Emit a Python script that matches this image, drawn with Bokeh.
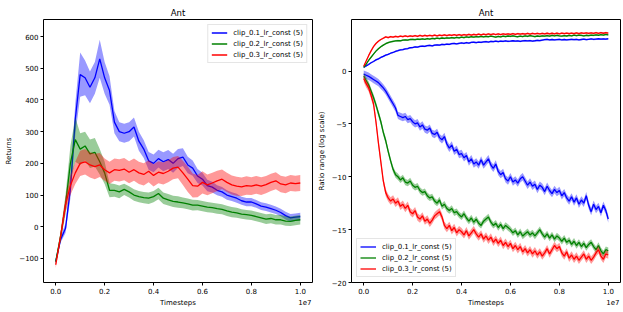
from bokeh.plotting import figure
from bokeh.layouts import row
from bokeh.models import Range1d, FixedTicker, Legend, LegendItem, LinearAxis
from bokeh.embed import file_html
from bokeh.resources import INLINE

# ---------------- data ----------------
series_names = ["clip_0.1_lr_const (5)", "clip_0.2_lr_const (5)", "clip_0.3_lr_const (5)"]
series_colors = ["#0000ff", "#008000", "#ff0000"]

# left panel: every 0.02e7 timesteps
steps_left = [i * 200_000 for i in range(51)]
returns_blue = [-110, -40, -5, 120, 340, 480, 470, 440, 470, 530,
                470, 430, 330, 300, 295, 300, 315, 270, 245, 208,
                200, 215, 205, 212, 200, 215, 220, 195, 185, 160,
                150, 130, 125, 115, 110, 100, 95, 90, 82, 78,
                78, 72, 65, 62, 57, 52, 45, 35, 28, 30, 32]
returns_blue_hw = [8, 10, 15, 30, 50, 70, 55, 50, 50, 60,
                   50, 45, 35, 30, 30, 30, 30, 30, 28, 28,
                   28, 28, 30, 30, 30, 30, 28, 26, 24, 22,
                   20, 18, 17, 16, 15, 15, 14, 14, 13, 13,
                   13, 12, 12, 12, 12, 12, 12, 12, 12, 12, 12]
returns_green = [-110, -30, 70, 200, 275, 245, 255, 230, 235, 205,
                 170, 115, 115, 110, 118, 110, 100, 95, 92, 90,
                 95, 105, 90, 85, 80, 78, 75, 72, 68, 68,
                 65, 62, 60, 57, 55, 50, 46, 44, 40, 38,
                 36, 32, 28, 24, 26, 22, 22, 18, 17, 20, 22]
returns_green_hw = [8, 15, 30, 55, 70, 50, 45, 45, 45, 40,
                    35, 22, 20, 20, 18, 18, 18, 18, 18, 18,
                    18, 18, 18, 18, 18, 18, 17, 17, 17, 16,
                    16, 16, 16, 16, 16, 16, 16, 16, 15, 15,
                    15, 15, 15, 15, 15, 15, 15, 15, 15, 15, 15]
returns_red = [-120, -30, 70, 130, 170, 200, 205, 195, 190, 195,
               180, 170, 180, 178, 182, 172, 180, 170, 165, 175,
               162, 172, 168, 175, 185, 188, 170, 150, 130, 128,
               140, 132, 138, 145, 150, 140, 132, 128, 126, 130,
               128, 132, 128, 133, 140, 145, 135, 132, 138, 136, 138]
returns_red_hw = [10, 15, 25, 30, 35, 40, 40, 40, 40, 38,
                  35, 35, 35, 35, 35, 35, 35, 35, 35, 35,
                  35, 35, 35, 35, 35, 35, 38, 40, 38, 35,
                  35, 33, 32, 32, 31, 30, 30, 30, 29, 29,
                  28, 28, 28, 27, 27, 27, 26, 26, 25, 25, 25]

# right panel: every 0.01e7 timesteps
steps_right = [i * 100_000 for i in range(101)]
ratio_max_blue = [0.35, 0.48, 0.62, 0.78, 0.9, 1.05, 1.15, 1.28, 1.38, 1.5,
                  1.58, 1.68, 1.75, 1.85, 1.92, 2.0, 2.02, 2.1, 2.12, 2.2,
                  2.22, 2.28, 2.25, 2.32, 2.35, 2.32, 2.4, 2.42, 2.38, 2.45,
                  2.48, 2.45, 2.52, 2.5, 2.55, 2.52, 2.58, 2.6, 2.56, 2.62,
                  2.65, 2.62, 2.68, 2.64, 2.7, 2.72, 2.68, 2.74, 2.7, 2.76,
                  2.78, 2.74, 2.8, 2.77, 2.82, 2.78, 2.83, 2.8, 2.84, 2.8,
                  2.82, 2.86, 2.82, 2.85, 2.8, 2.84, 2.88, 2.84, 2.87, 2.83,
                  2.86, 2.9, 2.87, 2.92, 2.96, 2.99, 2.95, 2.98, 2.94, 2.97,
                  2.99, 2.95, 2.98, 2.94, 2.97, 3.0, 2.96, 2.99, 2.95, 2.98,
                  3.01, 2.97, 3.0, 3.03, 2.99, 3.02, 3.05, 3.01, 3.04, 3.02, 3.05]
ratio_max_green = [0.35, 0.65, 1.0, 1.3, 1.6, 1.88, 2.1, 2.3, 2.45, 2.58,
                   2.68, 2.75, 2.8, 2.84, 2.88, 2.86, 2.92, 2.95, 2.92, 2.98,
                   3.0, 2.96, 3.02, 2.99, 3.04, 3.0, 3.06, 3.02, 3.08, 3.05,
                   3.1, 3.07, 3.12, 3.08, 3.14, 3.1, 3.16, 3.12, 3.18, 3.14,
                   3.2, 3.16, 3.22, 3.18, 3.24, 3.2, 3.26, 3.22, 3.27, 3.23,
                   3.28, 3.24, 3.3, 3.26, 3.21, 3.27, 3.23, 3.29, 3.25, 3.31,
                   3.27, 3.33, 3.28, 3.24, 3.3, 3.26, 3.32, 3.28, 3.34, 3.29,
                   3.25, 3.31, 3.27, 3.33, 3.29, 3.35, 3.3, 3.36, 3.32, 3.38,
                   3.33, 3.29, 3.35, 3.31, 3.37, 3.33, 3.39, 3.34, 3.4, 3.36,
                   3.32, 3.38, 3.34, 3.4, 3.36, 3.42, 3.38, 3.44, 3.4, 3.46, 3.42]
ratio_max_red = [0.45, 0.95, 1.45, 1.9, 2.3, 2.6, 2.82, 2.98, 3.1, 3.22,
                 3.15, 3.25, 3.2, 3.28, 3.22, 3.3, 3.25, 3.32, 3.26, 3.33,
                 3.27, 3.34, 3.28, 3.36, 3.3, 3.37, 3.31, 3.38, 3.32, 3.39,
                 3.33, 3.4, 3.34, 3.41, 3.35, 3.42, 3.36, 3.43, 3.37, 3.44,
                 3.38, 3.45, 3.39, 3.46, 3.4, 3.47, 3.41, 3.48, 3.42, 3.49,
                 3.43, 3.5, 3.44, 3.5, 3.45, 3.51, 3.45, 3.52, 3.46, 3.52,
                 3.47, 3.53, 3.47, 3.54, 3.48, 3.54, 3.48, 3.55, 3.49, 3.55,
                 3.5, 3.56, 3.5, 3.56, 3.51, 3.57, 3.51, 3.57, 3.52, 3.58,
                 3.52, 3.58, 3.53, 3.59, 3.53, 3.59, 3.54, 3.6, 3.54, 3.6,
                 3.55, 3.61, 3.55, 3.61, 3.56, 3.62, 3.56, 3.62, 3.57, 3.63, 3.58]
ratio_min_blue = [-0.3, -0.4, -0.5, -0.65, -0.8, -0.95, -1.1, -1.35, -1.6, -1.9,
                  -2.3, -2.7, -3.1, -3.5, -4.2, -4.3, -4.4, -4.3, -4.6, -4.5,
                  -4.8, -5.0, -4.9, -5.3, -5.1, -5.5, -5.6, -5.4, -5.9, -6.0,
                  -5.8, -6.3, -6.5, -6.2, -6.9, -7.3, -7.0, -7.6, -7.4, -7.9,
                  -7.8, -8.2, -8.0, -8.6, -8.3, -8.8, -8.6, -8.9, -8.4, -8.9,
                  -8.6, -8.3, -8.9, -9.2, -8.8, -9.5, -9.8, -9.6, -10.2, -10.4,
                  -10.0, -10.5, -10.3, -10.6, -10.2, -10.0, -10.4, -10.8, -10.5, -10.9,
                  -10.7, -11.2, -10.8, -11.0, -11.4, -10.9, -11.3, -11.6, -11.2, -11.5,
                  -11.3, -11.8, -11.5, -12.0, -12.3, -11.9, -12.4, -12.0, -12.6, -12.2,
                  -12.5, -11.8, -12.7, -13.3, -12.6, -13.1, -12.8, -13.4, -12.7, -13.2, -14.0]
ratio_min_green = [-0.5, -0.9, -1.3, -1.9, -2.5, -3.2, -4.0, -4.8, -5.8, -6.6,
                   -7.6, -8.5, -9.3, -9.8, -10.0, -10.3, -10.1, -10.5, -10.6, -10.4,
                   -10.8, -11.0, -10.9, -11.3, -11.5, -11.4, -11.8, -12.0, -11.9, -12.3,
                   -12.5, -12.2, -12.8, -12.6, -13.0, -13.2, -13.0, -13.4, -13.3, -13.6,
                   -13.8, -13.5, -13.9, -14.2, -13.9, -14.3, -14.0, -14.4, -14.6, -14.2,
                   -14.0, -13.8, -14.3, -14.6, -14.4, -14.8, -14.5, -14.9, -14.6, -14.8,
                   -15.0, -15.3, -15.1, -15.5, -15.2, -15.6, -15.4, -15.2, -15.5, -15.3,
                   -15.6, -15.3, -15.0, -15.4, -15.7, -15.4, -15.8, -15.5, -15.9, -15.6,
                   -15.8, -16.1, -15.8, -16.2, -16.0, -16.4, -16.1, -16.5, -16.2, -16.6,
                   -16.3, -16.7, -16.4, -16.2, -16.6, -16.9, -16.5, -17.0, -17.3, -16.9, -17.0]
ratio_min_red = [-0.7, -1.2, -1.6, -2.3, -3.1, -4.8, -6.8, -8.6, -10.4, -11.5,
                 -12.0, -12.3, -12.1, -12.5, -12.3, -12.8, -12.6, -13.0, -12.7, -13.3,
                 -13.5, -13.2, -13.8, -14.0, -13.7, -14.2, -14.0, -14.4, -14.1, -13.7,
                 -13.5, -13.3, -13.8, -14.6, -14.9, -14.6, -15.1, -14.8, -15.3, -15.0,
                 -15.2, -15.5, -15.1, -15.6, -15.3, -15.0, -15.4, -15.7, -15.4, -15.9,
                 -15.6, -16.0, -15.7, -16.2, -15.9, -16.3, -16.0, -16.5, -16.2, -16.6,
                 -16.3, -16.8, -16.5, -16.9, -16.6, -17.1, -16.8, -17.2, -16.9, -17.3,
                 -17.0, -17.4, -17.1, -17.5, -17.2, -16.8, -17.3, -16.9, -16.5, -16.8,
                 -16.6, -17.2, -17.5, -17.1, -17.7, -17.4, -17.8, -17.5, -17.9, -17.6,
                 -17.3, -17.8, -17.5, -17.9, -17.6, -17.2, -16.9, -17.5, -17.8, -17.3, -17.4]
ratio_max_hw = [0.08, 0.08, 0.08]
ratio_min_hw = [0.35, 0.3, 0.35]

x_tick_values = [0, 2_000_000, 4_000_000, 6_000_000, 8_000_000, 10_000_000]
x_tick_labels = ["0.0", "0.2", "0.4", "0.6", "0.8", "1.0"]
x_title = "Timesteps"
x_offset_text = "1e7"
left_y_ticks = [-100, 0, 100, 200, 300, 400, 500, 600]
left_y_labels = ["\u2212100", "0", "100", "200", "300", "400", "500", "600"]
right_y_ticks = [-20, -15, -10, -5, 0]
right_y_labels = ["\u221220", "\u221215", "\u221210", "\u22125", "0"]

FONT = "DejaVu Sans"


def style(p, yticks, ylabels, ylabel):
    p.title.text = "Ant"
    p.title.align = "center"
    p.title.text_font = FONT
    p.title.text_font_size = "8.5px"
    p.title.text_font_style = "normal"
    p.title.text_color = "black"
    p.title.standoff = 3
    p.grid.visible = False
    p.outline_line_color = "black"
    p.outline_line_width = 1
    for ax in (p.xaxis[0], p.yaxis[0]):
        ax.major_label_text_font = FONT
        ax.major_label_text_font_size = "7px"
        ax.major_label_text_color = "black"
        ax.axis_label_text_font = FONT
        ax.axis_label_text_font_size = "7px"
        ax.axis_label_text_font_style = "normal"
        ax.axis_label_text_color = "black"
        ax.minor_tick_line_color = None
        ax.major_tick_out = 3
        ax.major_tick_in = 0
        ax.major_label_standoff = 2
        ax.axis_label_standoff = 3
        ax.axis_line_color = None
        ax.major_tick_line_color = "black"
    p.xaxis[0].ticker = FixedTicker(ticks=x_tick_values)
    p.xaxis[0].major_label_overrides = dict(zip(x_tick_values, x_tick_labels))
    p.yaxis[0].ticker = FixedTicker(ticks=yticks)
    p.yaxis[0].major_label_overrides = dict(zip(yticks, ylabels))
    p.yaxis[0].axis_label = ylabel
    # second row under the tick labels: axis title centred, offset text at the right end
    pos = [5_000_000, 10_190_000]
    ax2 = LinearAxis(ticker=FixedTicker(ticks=pos),
                     major_label_overrides=dict(zip(pos, [x_title, x_offset_text])),
                     major_tick_line_color=None, minor_tick_line_color=None,
                     major_tick_out=0, major_tick_in=0,
                     axis_line_color=None, major_label_standoff=2,
                     major_label_text_font=FONT, major_label_text_font_size="7px",
                     major_label_text_color="black")
    p.add_layout(ax2, "below")


def make_fig(y_range, left_border, right_border):
    return figure(frame_width=269, frame_height=263, output_backend="svg",
                  toolbar_location=None, x_range=Range1d(-0.05e7, 1.05e7), y_range=y_range,
                  min_border_left=left_border, min_border_right=right_border,
                  min_border_top=19, min_border_bottom=26)


# ---------------- left ----------------
p1 = make_fig(Range1d(-176, 654), 43, 2)
items1 = []
for name, col, mean, hw in zip(series_names, series_colors,
                               [returns_blue, returns_green, returns_red],
                               [returns_blue_hw, returns_green_hw, returns_red_hw]):
    lo = [m - h for m, h in zip(mean, hw)]
    hi = [m + h for m, h in zip(mean, hw)]
    p1.varea(x=steps_left, y1=lo, y2=hi, fill_color=col, fill_alpha=0.4)
    r = p1.line(steps_left, mean, line_color=col, line_width=1.3)
    items1.append(LegendItem(label=name, renderers=[r]))
style(p1, left_y_ticks, left_y_labels, "Returns")

# ---------------- right ----------------
p2 = make_fig(Range1d(-20, 4.87), 32, 6)
items2 = []
for name, col, mx, mn, hwx, hwn in zip(series_names, series_colors,
                                       [ratio_max_blue, ratio_max_green, ratio_max_red],
                                       [ratio_min_blue, ratio_min_green, ratio_min_red],
                                       ratio_max_hw, ratio_min_hw):
    p2.varea(x=steps_right, y1=[v - hwx for v in mx], y2=[v + hwx for v in mx],
             fill_color=col, fill_alpha=0.4)
    p2.varea(x=steps_right, y1=[v - hwn for v in mn], y2=[v + hwn for v in mn],
             fill_color=col, fill_alpha=0.4)
    r = p2.line(steps_right, mx, line_color=col, line_width=1.3)
    p2.line(steps_right, mn, line_color=col, line_width=1.3)
    items2.append(LegendItem(label=name, renderers=[r]))
style(p2, right_y_ticks, right_y_labels, "Ratio range (log scale)")


def legend(items, loc):
    lg = Legend(items=items, location=loc)
    lg.label_text_font = FONT
    lg.label_text_font_size = "7px"
    lg.label_text_color = "black"
    lg.glyph_width = 16
    lg.glyph_height = 9
    lg.label_height = 9
    lg.spacing = 2
    lg.padding = 3
    lg.margin = 5
    lg.label_standoff = 6
    lg.border_line_color = "#cccccc"
    lg.background_fill_alpha = 0.8
    return lg


p1.add_layout(legend(items1, "top_right"))
p2.add_layout(legend(items2, "bottom_left"))

layout = row(p1, p2)
open("out.html", "w").write(file_html(layout, INLINE))
